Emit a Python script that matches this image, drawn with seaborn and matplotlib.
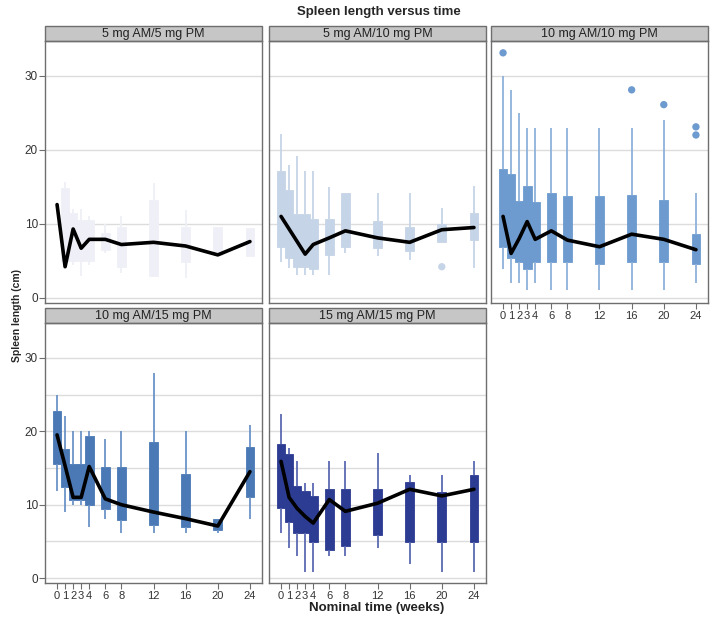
import numpy as np
import pandas as pd
import seaborn as sns
import matplotlib.pyplot as plt
from matplotlib.patches import Rectangle

sns.set_style('white')
plt.rcParams['font.family'] = ['Liberation Sans', 'DejaVu Sans']

weeks = [0, 1, 2, 3, 4, 6, 8, 12, 16, 20, 24]
panel_titles = ['5 mg AM/5 mg PM', '5 mg AM/10 mg PM', '10 mg AM/10 mg PM',
                '10 mg AM/15 mg PM', '15 mg AM/15 mg PM']

# 5 mg AM/5 mg PM (no box at week 0)
box_weeks1 = [1, 2, 3, 4, 6, 8, 12, 16, 20, 24]
lo1 = [4.2, 4.5, 3.0, 4.5, 6.0, 3.4, 2.9, 2.7, 5.8, 5.7]
q1_1 = [5.0, 5.0, 5.0, 5.0, 6.5, 4.2, 2.9, 4.9, 5.8, 5.7]
q3_1 = [14.8, 11.5, 10.5, 10.5, 8.8, 9.6, 13.2, 9.6, 9.6, 9.4]
hi1 = [15.7, 12.0, 12.0, 11.0, 10.0, 11.0, 15.5, 11.9, 9.6, 9.4]
mean1 = [12.6, 4.2, 9.3, 6.7, 7.9, 7.9, 7.2, 7.5, 7.0, 5.8, 7.6]
out_x1, out_y1 = [], []

# 5 mg AM/10 mg PM
lo2 = [4.9, 4.0, 3.1, 3.1, 3.1, 3.1, 6.0, 5.7, 5.1, 7.6, 4.0]
q1_2 = [6.85, 5.4, 4.2, 4.2, 3.9, 5.8, 6.9, 6.7, 6.35, 7.6, 7.75]
q3_2 = [17.2, 14.6, 11.3, 11.3, 10.7, 10.7, 14.1, 10.4, 9.6, 10.0, 11.4]
hi2 = [22.2, 18.0, 19.2, 17.1, 17.1, 15.0, 14.1, 14.1, 14.1, 12.1, 15.1]
mean2 = [11.0, 9.3, 7.6, 5.9, 7.2, 8.1, 9.05, 8.1, 7.5, 9.2, 9.5]
out_x2, out_y2 = [20], [4.2]

# 10 mg AM/10 mg PM
lo3 = [3.9, 2.0, 2.0, 1.0, 2.0, 1.0, 1.0, 1.0, 1.0, 1.0, 2.0]
q1_3 = [6.85, 5.4, 4.9, 3.9, 4.9, 4.9, 4.9, 4.6, 4.9, 4.9, 4.6]
q3_3 = [17.4, 16.7, 13.1, 15.1, 12.9, 14.1, 13.7, 13.7, 13.9, 13.2, 8.6]
hi3 = [30.0, 28.1, 25.0, 23.0, 23.0, 23.0, 23.0, 23.0, 23.0, 24.0, 14.1]
mean3 = [11.0, 6.0, 8.0, 10.3, 7.9, 9.05, 7.8, 6.9, 8.6, 7.9, 6.5]
out_x3, out_y3 = [0, 16, 20, 24, 24], [33.1, 28.1, 26.1, 23.1, 22.0]

# 10 mg AM/15 mg PM
lo4 = [11.8, 9.0, 10.0, 10.0, 7.0, 8.0, 6.1, 6.1, 6.1, 6.1, 8.0]
q1_4 = [15.5, 12.4, 10.6, 10.6, 10.0, 9.4, 7.9, 7.3, 6.9, 6.5, 11.1]
q3_4 = [22.8, 17.6, 15.5, 15.5, 19.3, 15.1, 15.1, 18.6, 14.2, 8.0, 17.8]
hi4 = [24.9, 22.1, 20.1, 20.1, 20.1, 19.0, 20.0, 28.0, 20.0, 8.1, 20.9]
mean4 = [19.5, 15.3, 11.0, 11.0, 15.2, 10.8, 10.0, 9.0, 8.1, 7.1, 14.5]
out_x4, out_y4 = [], []

# 15 mg AM/15 mg PM
lo5 = [6.1, 4.1, 3.0, 0.9, 0.9, 3.0, 3.0, 4.1, 1.9, 0.9, 0.9]
q1_5 = [9.5, 7.7, 6.1, 6.1, 4.9, 3.9, 4.4, 5.9, 4.9, 4.9, 4.9]
q3_5 = [18.2, 16.9, 12.5, 11.9, 11.2, 12.2, 12.2, 12.2, 13.1, 11.7, 14.1]
hi5 = [22.3, 17.7, 16.0, 13.0, 13.0, 16.0, 16.0, 17.0, 14.1, 14.1, 15.9]
mean5 = [15.9, 11.0, 9.5, 8.4, 7.5, 10.7, 9.1, 10.2, 12.1, 11.2, 12.1]
out_x5, out_y5 = [], []

box_colors = ['#efeff7', '#c6d4e7', '#6d9bcf', '#4a79b6', '#2c3c92']
whisker_colors = ['#efeff7', '#c6d4e7', '#8fb1da', '#6b93c7', '#5a69b2']

panels = [
    (box_weeks1, lo1, q1_1, q3_1, hi1, mean1, out_x1, out_y1),
    (weeks, lo2, q1_2, q3_2, hi2, mean2, out_x2, out_y2),
    (weeks, lo3, q1_3, q3_3, hi3, mean3, out_x3, out_y3),
    (weeks, lo4, q1_4, q3_4, hi4, mean4, out_x4, out_y4),
    (weeks, lo5, q1_5, q3_5, hi5, mean5, out_x5, out_y5),
]

W, H = 717, 626
fig = plt.figure(figsize=(W / 100, H / 100), dpi=100)

col_left = [45, 269, 491]
col_w = 217
rows = [(41, 303), (323.3, 583.3)]   # plot area top/bottom in px
strip_px = 15

for i, (title, pdata) in enumerate(zip(panel_titles, panels)):
    r, c = divmod(i, 3)
    top, bot = rows[r]
    ax = fig.add_axes([col_left[c] / W, 1 - bot / H, col_w / W, (bot - top) / H])
    bw, lo, q1, q3, hi, mean, ox, oy = pdata

    # five points per box reproduce min / quartiles / max exactly
    recs = []
    for k, wk in enumerate(bw):
        m = mean[weeks.index(wk)]
        med = min(max(m, q1[k]), q3[k])
        for v in (lo[k], q1[k], med, q3[k], hi[k]):
            recs.append({'week': wk, 'value': v})
    df = pd.DataFrame(recs)

    grid_vals = [0, 10, 20, 30] if r == 0 else [0, 5, 10, 15, 20, 25, 30]
    for g in grid_vals:
        ax.axhline(g, color='#dcdcdc', lw=1, zorder=0)

    sns.boxplot(data=df, x='week', y='value', native_scale=True, width=1.08,
                whis=(0, 100), color=box_colors[i], saturation=1,
                linecolor=box_colors[i], linewidth=0.6, showcaps=False,
                whiskerprops=dict(color=whisker_colors[i], linewidth=1.3),
                medianprops=dict(color=box_colors[i], linewidth=0),
                ax=ax, zorder=2)
    if ox:
        sns.scatterplot(x=ox, y=oy, color=box_colors[i], s=28, edgecolor='none',
                        ax=ax, zorder=3)
    sns.lineplot(x=weeks, y=mean, color='black', lw=2.6, ax=ax, zorder=5)

    ax.set_xlim(-1.5, 25.5)
    ax.set_ylim(-0.7, 34.7)
    ax.set_xlabel('')
    ax.set_ylabel('')
    for s in ax.spines.values():
        s.set_color('#6e6e6e')
        s.set_linewidth(1)

    ax.set_yticks([0, 10, 20, 30])
    if c == 0:
        ax.tick_params(axis='y', length=4, color='#6e6e6e', labelsize=8.5,
                       labelcolor='#333333', pad=1, left=True)
    else:
        ax.tick_params(axis='y', left=False, labelleft=False)

    ax.set_xticks(weeks)
    if i >= 2:
        ax.tick_params(axis='x', length=4, color='#6e6e6e', labelsize=8,
                       labelcolor='#333333', pad=1.5, bottom=True)
    else:
        ax.tick_params(axis='x', bottom=False, labelbottom=False)

    sh = strip_px / (bot - top)
    ax.add_patch(Rectangle((0, 1), 1, sh, transform=ax.transAxes, clip_on=False,
                           facecolor='#c6c6c6', edgecolor='#6e6e6e', lw=1))
    ax.text(0.5, 1 + sh / 2, title, transform=ax.transAxes, ha='center',
            va='center', fontsize=9, color='#222222')

fig.text(379 / W, 1 - 12 / H, 'Spleen length versus time', ha='center',
         va='center', fontsize=9.5, fontweight='bold')
fig.text(17 / W, 1 - 316 / H, 'Spleen length (cm)', rotation=90, ha='center',
         va='center', fontsize=7.5, fontweight='bold')
fig.text(377 / W, 1 - 608 / H, 'Nominal time (weeks)', ha='center',
         va='center', fontsize=9.5, fontweight='bold', color='#222222')

fig.savefig('out.png', dpi=100, facecolor='white')
